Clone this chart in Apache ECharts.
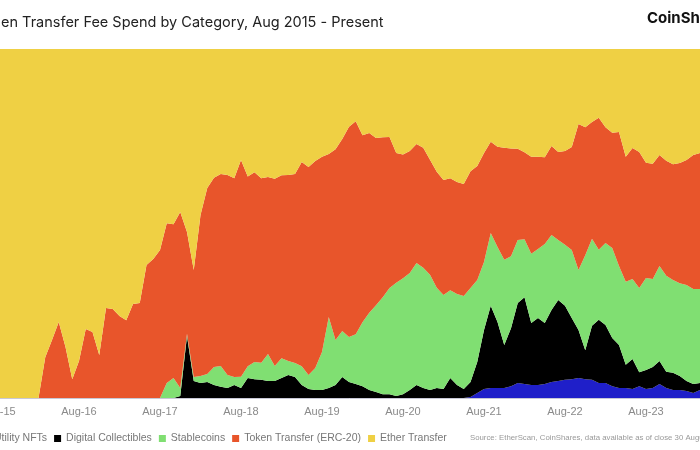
<!DOCTYPE html>
<html>
<head>
<meta charset="utf-8">
<script src="https://cdn.jsdelivr.net/npm/echarts@6/dist/echarts.min.js"></script>
<style>
  html, body { margin: 0; padding: 0; background: #fff; }
  #chart { width: 700px; height: 450px; }
</style>
</head>
<body>
<div id="chart"></div>
<script>
// monthly share of transfer fee spend (%), Aug 2015 onwards
var monthNames = ['Jan', 'Feb', 'Mar', 'Apr', 'May', 'Jun', 'Jul', 'Aug', 'Sep', 'Oct', 'Nov', 'Dec']
var months = []
for (var i = 0; i < 105; i++) {
  months.push(monthNames[(7 + i) % 12] + '-' + (15 + Math.floor((7 + i) / 12)))
}

var utilityNfts = [
  0, 0, 0, 0, 0, 0, 0, 0, 0, 0, 0, 0,
  0, 0, 0, 0, 0, 0, 0, 0, 0, 0, 0, 0,
  0, 0, 0, 0, 0, 0, 0, 0, 0, 0, 0, 0,
  0, 0, 0, 0, 0, 0, 0, 0, 0, 0, 0, 0,
  0, 0, 0, 0, 0, 0, 0, 0, 0, 0, 0, 0,
  0, 0, 0, 0, 0, 0, 0, 0, 0, 0, 0.3, 1.4,
  2.6, 2.9, 2.9, 2.9, 3.4, 4.3, 4.0, 3.7, 3.7, 4.0, 4.6, 4.9,
  5.2, 5.4, 5.7, 5.4, 5.2, 4.3, 4.3, 3.4, 2.9, 2.9, 2.6, 3.4,
  2.6, 2.9, 4.0, 2.9, 2.3, 2.3, 2.0, 1.4, 2.3
]
var digitalCollectibles = [
  0, 0, 0, 0, 0, 0, 0, 0, 0, 0, 0, 0,
  0, 0, 0, 0, 0, 0, 0, 0, 0, 0, 0, 0,
  0, 0, 0, 0.6, 17.8, 4.9, 4.3, 4.6, 3.7, 3.2, 2.9, 3.7,
  2.9, 5.7, 5.4, 5.2, 4.9, 4.9, 5.7, 6.6, 6.0, 3.7, 2.6, 2.3,
  2.3, 2.9, 3.7, 6.0, 4.6, 4.0, 3.4, 2.3, 1.7, 1.1, 1.1, 0.6,
  1.1, 2.3, 3.7, 2.9, 2.3, 2.9, 2.6, 5.7, 3.7, 2.6, 4.3, 8.9,
  16.9, 23.5, 18.9, 12.3, 16.6, 22.9, 24.9, 17.8, 19.2, 17.5, 20.6, 23.2,
  21.2, 17.5, 13.8, 8.3, 15.5, 18.1, 16.6, 13.8, 12.3, 6.6, 8.6, 4.0,
  5.4, 6.0, 6.6, 4.6, 4.9, 4.0, 2.9, 2.6, 2.0
]
var stablecoins = [
  0, 0, 0, 0, 0, 0, 0, 0, 0, 0, 0, 0,
  0, 0, 0, 0, 0, 0, 0, 0, 0, 0, 0, 0,
  0, 4.3, 5.7, 2.3, 0.6, 1.1, 2.0, 2.3, 5.2, 6.0, 3.7, 2.3,
  3.2, 3.4, 4.9, 4.9, 7.7, 4.3, 5.7, 4.0, 4.0, 5.4, 4.0, 6.3,
  10.9, 20.3, 12.9, 13.2, 12.9, 14.3, 18.3, 22.1, 24.9, 27.8, 30.4, 32.4,
  33.2, 33.5, 35.0, 34.4, 33.0, 28.7, 26.9, 25.2, 26.1, 26.6, 26.9, 23.5,
  19.5, 20.9, 21.5, 24.4, 20.6, 18.1, 16.6, 19.8, 19.8, 22.6, 21.5, 17.2,
  17.5, 19.5, 17.2, 27.2, 24.9, 20.1, 23.5, 25.8, 22.6, 23.8, 22.9, 24.1,
  26.4, 25.2, 27.2, 27.5, 26.6, 26.6, 27.5, 27.2, 26.9
]
var tokenTransfer = [
  0, 0, 0, 0, 0, 0, 0, 11.7, 16.6, 21.8, 14.6, 5.4,
  10.6, 19.8, 18.9, 12.3, 25.8, 25.5, 23.5, 22.3, 26.9, 27.2, 38.1, 39.8,
  42.4, 45.8, 44.1, 50.4, 29.2, 30.7, 46.1, 53.3, 54.2, 55.0, 57.3, 57.0,
  62.1, 54.4, 54.4, 52.9, 50.7, 53.6, 52.4, 53.3, 54.2, 58.5, 59.6, 59.3,
  55.9, 46.7, 54.7, 55.0, 60.2, 61.0, 53.6, 51.5, 47.9, 45.8, 43.3, 37.2,
  35.5, 35.0, 34.1, 34.4, 33.0, 33.2, 33.0, 32.1, 32.1, 32.1, 33.5, 32.7,
  31.2, 26.1, 28.7, 32.1, 30.9, 26.1, 24.9, 27.8, 26.4, 24.9, 25.5, 25.2,
  26.9, 29.5, 41.8, 36.7, 33.5, 37.8, 33.2, 33.0, 38.4, 35.8, 37.5, 39.0,
  33.0, 33.0, 31.8, 33.0, 33.2, 34.4, 35.8, 38.4, 39.0
]
var etherTransfer = [
  100, 100, 100, 100, 100, 100, 100, 88.3, 83.4, 78.2, 85.4, 94.6,
  89.4, 80.2, 81.1, 87.7, 74.2, 74.5, 76.5, 77.7, 73.1, 72.8, 61.9, 60.2,
  57.6, 49.9, 50.2, 46.7, 52.4, 63.3, 47.6, 39.8, 36.9, 35.8, 36.1, 37.0,
  31.8, 36.5, 35.3, 37.0, 36.7, 37.2, 36.2, 36.1, 35.8, 32.4, 33.8, 32.1,
  30.9, 30.1, 28.7, 25.8, 22.3, 20.7, 24.7, 24.1, 25.5, 25.3, 25.2, 29.8,
  30.2, 29.2, 27.2, 28.3, 31.7, 35.2, 37.5, 37.0, 38.1, 38.7, 35.0, 33.5,
  29.8, 26.6, 28.0, 28.3, 28.5, 28.6, 29.6, 30.9, 30.9, 31.0, 27.8, 29.5,
  29.2, 28.1, 21.5, 22.4, 20.9, 19.7, 22.4, 24.0, 23.8, 30.9, 28.4, 29.5,
  32.6, 32.9, 30.4, 32.0, 33.0, 32.7, 31.8, 30.4, 29.8
]

var seriesNames = ['Utility NFTs', 'Digital Collectibles', 'Stablecoins', 'Token Transfer (ERC-20)', 'Ether Transfer']
var seriesColors = ['#1f1fc9', '#000000', '#80df72', '#e8552b', '#efd044']
var seriesData = [utilityNfts, digitalCollectibles, stablecoins, tokenTransfer, etherTransfer]

var chart = echarts.init(document.getElementById('chart'))
chart.setOption({
  animation: false,
  color: seriesColors,
  title: {
    text: 'en Transfer Fee Spend by Category, Aug 2015 - Present',
    left: -4,
    top: 10,
    textStyle: { fontFamily: 'Inter', fontSize: 14.5, fontWeight: 'normal', color: '#222' },
  },
  graphic: [
    {
      type: 'text',
      left: 647,
      top: 11,
      style: { text: 'CoinShares', font: 'bold 15px Inter', fill: '#111' },
    },
    {
      type: 'text',
      left: 470,
      top: 434,
      style: {
        text: 'Source: EtherScan, CoinShares, data available as of close 30 August 2024',
        font: '7.8px "Liberation Sans"',
        fill: '#999',
      },
    },
  ],
  legend: {
    data: seriesNames,
    left: -23,
    top: 428,
    icon: 'rect',
    itemWidth: 7,
    itemHeight: 7,
    itemGap: 7,
    textStyle: { fontFamily: 'Liberation Sans', fontSize: 10.5, color: '#777' },
  },
  grid: {
    left: -2,
    right: 0,
    top: 49,
    bottom: 52,
    containLabel: false,
    outerBoundsMode: 'none',
  },
  xAxis: {
    type: 'category',
    boundaryGap: false,
    data: months,
    axisLine: { lineStyle: { color: '#c8c8d6' } },
    axisTick: { show: false },
    axisLabel: {
      interval: 11,
      margin: 8,
      fontFamily: 'Liberation Sans',
      fontSize: 11,
      color: '#8a8a8a',
    },
  },
  yAxis: {
    type: 'value',
    min: 0,
    max: 100,
    show: false,
  },
  series: seriesNames.map(function (name, idx) {
    return {
      name: name,
      type: 'line',
      stack: 'share',
      data: seriesData[idx],
      symbol: 'none',
      lineStyle: { width: 0 },
      areaStyle: { opacity: 1, color: seriesColors[idx] },
    }
  }),
})
</script>
</body>
</html>
